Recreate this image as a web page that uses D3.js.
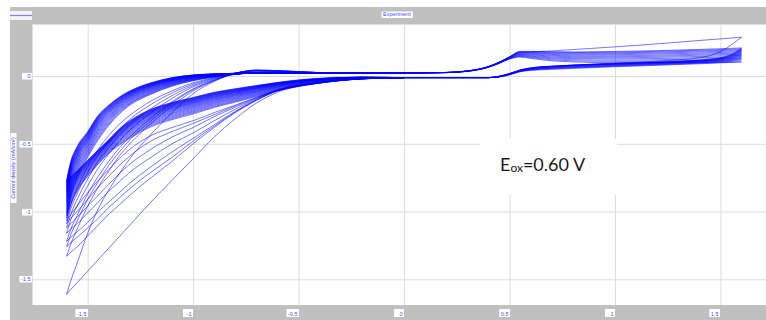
<!DOCTYPE html>
<html>
<head>
<meta charset="utf-8">
<script src="https://cdn.jsdelivr.net/npm/d3@7/dist/d3.min.js"></script>
<style>
  html, body { margin: 0; padding: 0; background: #ffffff; }
  svg { display: block; }
</style>
</head>
<body>
<svg id="chart" width="766" height="320"></svg>
<script>
// ---- Axis ticks ----
const xTickValues = [-1.5, -1, -0.5, 0, 0.5, 1, 1.5];
const xTickLabels = ["-1.5", "-1", "-0.5", "0", "0.5", "1", "1.5"];
const yTickValues = [0, -0.5, -1, -1.5];
const yTickLabels = ["0", "-0.5", "-1", "-1.5"];

// ---- Cathodic region: potentials (V) shared by every cycle ----
const negPotentials = [-1.6, -1.58, -1.55, -1.5, -1.45, -1.4, -1.35, -1.3, -1.2, -1.1, -1.0, -0.9, -0.8, -0.7, -0.6, -0.4, -0.2, 0.0];

// Positive-going sweep, current density (mA/cm2) at negPotentials; first cycle first
const cycleAnodic = [
  [-1.61, -1.51, -1.38, -1.16, -0.98, -0.84, -0.72, -0.61, -0.43, -0.27, -0.13, -0.04, 0.018, 0.042, 0.04, 0.025, 0.02, 0.022],
  [-1.33, -1.24, -1.13, -0.96, -0.82, -0.70, -0.59, -0.50, -0.35, -0.22, -0.11, -0.035, 0.02, 0.044, 0.04, 0.025, 0.02, 0.022],
  [-1.26, -1.17, -1.07, -0.91, -0.78, -0.66, -0.56, -0.47, -0.33, -0.20, -0.10, -0.032, 0.02, 0.043, 0.039, 0.025, 0.02, 0.022],
  [-1.22, -1.13, -1.03, -0.87, -0.74, -0.63, -0.53, -0.45, -0.31, -0.19, -0.095, -0.03, 0.02, 0.042, 0.038, 0.025, 0.02, 0.022],
  [-1.16, -1.06, -0.96, -0.81, -0.68, -0.575, -0.48, -0.40, -0.27, -0.165, -0.08, -0.025, 0.021, 0.04, 0.036, 0.024, 0.02, 0.022],
  [-1.12, -1.02, -0.91, -0.76, -0.63, -0.53, -0.44, -0.36, -0.24, -0.145, -0.07, -0.02, 0.021, 0.038, 0.034, 0.024, 0.02, 0.022],
  [-1.09, -0.98, -0.87, -0.71, -0.58, -0.48, -0.395, -0.32, -0.21, -0.125, -0.06, -0.015, 0.021, 0.036, 0.032, 0.024, 0.02, 0.022],
  [-1.07, -0.95, -0.83, -0.67, -0.54, -0.44, -0.355, -0.29, -0.185, -0.11, -0.05, -0.012, 0.02, 0.034, 0.031, 0.024, 0.02, 0.022],
  [-1.05, -0.90, -0.76, -0.60, -0.47, -0.365, -0.28, -0.215, -0.135, -0.075, -0.035, -0.008, 0.012, 0.026, 0.027, 0.023, 0.02, 0.022],
  [-1.033, -0.884, -0.745, -0.588, -0.46, -0.356, -0.273, -0.208, -0.13, -0.071, -0.032, -0.006, 0.012, 0.026, 0.027, 0.023, 0.02, 0.022],
  [-1.016, -0.868, -0.731, -0.577, -0.448, -0.347, -0.265, -0.202, -0.125, -0.067, -0.03, -0.005, 0.013, 0.025, 0.026, 0.023, 0.02, 0.022],
  [-1.0, -0.851, -0.717, -0.565, -0.437, -0.338, -0.257, -0.197, -0.12, -0.063, -0.027, -0.003, 0.013, 0.025, 0.026, 0.023, 0.02, 0.022],
  [-0.983, -0.835, -0.702, -0.554, -0.427, -0.329, -0.25, -0.19, -0.115, -0.06, -0.025, -0.002, 0.014, 0.024, 0.025, 0.023, 0.02, 0.022],
  [-0.968, -0.82, -0.688, -0.545, -0.416, -0.321, -0.243, -0.184, -0.11, -0.056, -0.022, -0.001, 0.014, 0.024, 0.025, 0.023, 0.02, 0.022],
  [-0.952, -0.806, -0.676, -0.534, -0.407, -0.313, -0.236, -0.178, -0.105, -0.053, -0.02, 0.0, 0.014, 0.023, 0.024, 0.022, 0.02, 0.022],
  [-0.937, -0.793, -0.663, -0.524, -0.398, -0.305, -0.23, -0.173, -0.101, -0.05, -0.018, 0.002, 0.014, 0.023, 0.024, 0.022, 0.02, 0.022],
  [-0.924, -0.779, -0.652, -0.515, -0.389, -0.298, -0.224, -0.168, -0.097, -0.047, -0.016, 0.003, 0.015, 0.023, 0.024, 0.022, 0.02, 0.022],
  [-0.911, -0.766, -0.641, -0.506, -0.381, -0.291, -0.219, -0.163, -0.093, -0.044, -0.014, 0.004, 0.015, 0.023, 0.024, 0.022, 0.02, 0.022],
  [-0.899, -0.754, -0.63, -0.497, -0.373, -0.284, -0.213, -0.158, -0.089, -0.041, -0.012, 0.005, 0.015, 0.023, 0.024, 0.022, 0.02, 0.022],
  [-0.888, -0.743, -0.62, -0.489, -0.365, -0.278, -0.208, -0.154, -0.085, -0.038, -0.01, 0.006, 0.016, 0.023, 0.024, 0.022, 0.02, 0.022],
  [-0.876, -0.733, -0.611, -0.482, -0.358, -0.272, -0.203, -0.15, -0.082, -0.036, -0.008, 0.007, 0.016, 0.023, 0.024, 0.022, 0.02, 0.022],
  [-0.866, -0.723, -0.602, -0.475, -0.352, -0.267, -0.198, -0.146, -0.079, -0.034, -0.006, 0.008, 0.016, 0.023, 0.024, 0.022, 0.02, 0.022],
  [-0.857, -0.714, -0.594, -0.469, -0.346, -0.262, -0.194, -0.143, -0.076, -0.032, -0.005, 0.009, 0.017, 0.023, 0.024, 0.022, 0.02, 0.022],
  [-0.848, -0.706, -0.587, -0.463, -0.34, -0.257, -0.19, -0.139, -0.073, -0.03, -0.004, 0.009, 0.017, 0.023, 0.024, 0.022, 0.02, 0.022],
  [-0.84, -0.698, -0.58, -0.458, -0.335, -0.253, -0.186, -0.136, -0.071, -0.028, -0.003, 0.01, 0.018, 0.023, 0.024, 0.022, 0.02, 0.022],
  [-0.831, -0.69, -0.573, -0.452, -0.329, -0.248, -0.182, -0.133, -0.068, -0.026, -0.001, 0.01, 0.018, 0.023, 0.024, 0.022, 0.02, 0.022],
  [-0.823, -0.681, -0.566, -0.446, -0.324, -0.244, -0.179, -0.13, -0.066, -0.024, 0.0, 0.011, 0.018, 0.023, 0.024, 0.022, 0.02, 0.022],
  [-0.816, -0.674, -0.56, -0.441, -0.319, -0.24, -0.176, -0.127, -0.064, -0.022, 0.001, 0.012, 0.018, 0.023, 0.024, 0.022, 0.02, 0.022],
  [-0.809, -0.668, -0.554, -0.437, -0.315, -0.236, -0.173, -0.125, -0.062, -0.021, 0.002, 0.013, 0.019, 0.023, 0.024, 0.022, 0.02, 0.022],
  [-0.802, -0.661, -0.548, -0.432, -0.31, -0.232, -0.169, -0.122, -0.06, -0.019, 0.003, 0.013, 0.019, 0.023, 0.024, 0.022, 0.02, 0.022],
  [-0.795, -0.654, -0.542, -0.427, -0.306, -0.229, -0.166, -0.119, -0.058, -0.018, 0.004, 0.014, 0.019, 0.023, 0.024, 0.022, 0.02, 0.022],
  [-0.789, -0.648, -0.536, -0.423, -0.302, -0.225, -0.163, -0.117, -0.056, -0.016, 0.005, 0.014, 0.02, 0.023, 0.024, 0.022, 0.02, 0.022],
  [-0.783, -0.642, -0.531, -0.419, -0.298, -0.222, -0.161, -0.115, -0.054, -0.015, 0.006, 0.015, 0.02, 0.023, 0.024, 0.022, 0.02, 0.022],
  [-0.776, -0.636, -0.525, -0.414, -0.294, -0.218, -0.158, -0.112, -0.052, -0.013, 0.007, 0.015, 0.02, 0.023, 0.024, 0.022, 0.02, 0.022],
  [-0.77, -0.63, -0.52, -0.41, -0.29, -0.215, -0.155, -0.11, -0.05, -0.012, 0.008, 0.016, 0.02, 0.023, 0.024, 0.022, 0.02, 0.022]
];

// Negative-going sweep, current density (mA/cm2) at negPotentials; same cycles
const cycleCathodic = [
  [-1.61, -1.575, -1.525, -1.44, -1.355, -1.27, -1.185, -1.10, -0.93, -0.77, -0.61, -0.45, -0.315, -0.20, -0.12, -0.05, -0.02, -0.012],
  [-1.33, -1.30, -1.26, -1.18, -1.10, -1.02, -0.95, -0.88, -0.75, -0.63, -0.50, -0.38, -0.27, -0.18, -0.11, -0.05, -0.02, -0.012],
  [-1.26, -1.23, -1.19, -1.12, -1.05, -0.97, -0.90, -0.83, -0.71, -0.60, -0.48, -0.37, -0.265, -0.178, -0.108, -0.049, -0.02, -0.012],
  [-1.22, -1.19, -1.15, -1.08, -1.0, -0.93, -0.86, -0.79, -0.67, -0.56, -0.46, -0.36, -0.26, -0.175, -0.105, -0.048, -0.02, -0.012],
  [-1.16, -1.13, -1.09, -1.01, -0.93, -0.85, -0.78, -0.71, -0.60, -0.50, -0.42, -0.33, -0.245, -0.17, -0.105, -0.048, -0.02, -0.012],
  [-1.12, -1.09, -1.04, -0.96, -0.88, -0.80, -0.72, -0.65, -0.54, -0.45, -0.38, -0.30, -0.23, -0.165, -0.105, -0.05, -0.021, -0.012],
  [-1.09, -1.05, -1.0, -0.91, -0.82, -0.74, -0.66, -0.59, -0.48, -0.41, -0.35, -0.285, -0.22, -0.16, -0.105, -0.05, -0.021, -0.012],
  [-1.07, -1.02, -0.96, -0.86, -0.77, -0.69, -0.61, -0.54, -0.44, -0.38, -0.33, -0.27, -0.215, -0.158, -0.108, -0.052, -0.021, -0.012],
  [-1.05, -0.95, -0.85, -0.74, -0.65, -0.57, -0.51, -0.46, -0.375, -0.322, -0.28, -0.232, -0.193, -0.152, -0.11, -0.053, -0.022, -0.012],
  [-1.033, -0.938, -0.841, -0.733, -0.644, -0.564, -0.503, -0.452, -0.367, -0.315, -0.272, -0.226, -0.187, -0.147, -0.106, -0.051, -0.021, -0.012],
  [-1.016, -0.925, -0.832, -0.726, -0.637, -0.558, -0.496, -0.444, -0.359, -0.307, -0.265, -0.219, -0.181, -0.142, -0.102, -0.049, -0.02, -0.012],
  [-1.0, -0.913, -0.823, -0.719, -0.631, -0.552, -0.489, -0.437, -0.352, -0.30, -0.258, -0.212, -0.175, -0.137, -0.099, -0.047, -0.02, -0.012],
  [-0.983, -0.90, -0.814, -0.711, -0.625, -0.546, -0.481, -0.429, -0.344, -0.292, -0.251, -0.205, -0.169, -0.132, -0.095, -0.044, -0.019, -0.012],
  [-0.968, -0.888, -0.806, -0.705, -0.619, -0.541, -0.475, -0.422, -0.337, -0.285, -0.244, -0.199, -0.164, -0.128, -0.092, -0.042, -0.018, -0.012],
  [-0.952, -0.876, -0.797, -0.698, -0.613, -0.535, -0.468, -0.414, -0.329, -0.278, -0.237, -0.193, -0.158, -0.123, -0.088, -0.04, -0.017, -0.012],
  [-0.937, -0.866, -0.79, -0.692, -0.608, -0.53, -0.462, -0.408, -0.323, -0.272, -0.231, -0.188, -0.153, -0.119, -0.085, -0.039, -0.017, -0.012],
  [-0.924, -0.855, -0.782, -0.686, -0.603, -0.525, -0.456, -0.401, -0.316, -0.265, -0.225, -0.182, -0.148, -0.115, -0.082, -0.037, -0.016, -0.012],
  [-0.911, -0.846, -0.776, -0.681, -0.598, -0.521, -0.451, -0.396, -0.311, -0.259, -0.22, -0.177, -0.144, -0.112, -0.079, -0.036, -0.015, -0.012],
  [-0.899, -0.837, -0.769, -0.675, -0.593, -0.516, -0.445, -0.39, -0.305, -0.253, -0.214, -0.172, -0.14, -0.108, -0.076, -0.034, -0.014, -0.012],
  [-0.888, -0.829, -0.763, -0.671, -0.589, -0.512, -0.441, -0.385, -0.30, -0.248, -0.209, -0.168, -0.136, -0.105, -0.074, -0.033, -0.014, -0.012],
  [-0.876, -0.82, -0.757, -0.666, -0.585, -0.508, -0.436, -0.379, -0.294, -0.243, -0.204, -0.163, -0.132, -0.101, -0.071, -0.031, -0.013, -0.012],
  [-0.866, -0.813, -0.752, -0.662, -0.582, -0.505, -0.432, -0.375, -0.29, -0.239, -0.20, -0.159, -0.129, -0.098, -0.069, -0.03, -0.013, -0.012],
  [-0.857, -0.805, -0.746, -0.657, -0.578, -0.501, -0.427, -0.37, -0.285, -0.234, -0.196, -0.155, -0.125, -0.095, -0.067, -0.028, -0.012, -0.012],
  [-0.848, -0.799, -0.742, -0.654, -0.575, -0.498, -0.424, -0.366, -0.281, -0.231, -0.192, -0.152, -0.122, -0.093, -0.065, -0.027, -0.012, -0.012],
  [-0.84, -0.792, -0.737, -0.65, -0.571, -0.495, -0.42, -0.362, -0.277, -0.227, -0.188, -0.148, -0.119, -0.09, -0.063, -0.026, -0.012, -0.012],
  [-0.831, -0.786, -0.733, -0.647, -0.568, -0.492, -0.417, -0.359, -0.274, -0.223, -0.185, -0.145, -0.116, -0.088, -0.061, -0.025, -0.012, -0.012],
  [-0.823, -0.78, -0.728, -0.643, -0.565, -0.489, -0.413, -0.355, -0.27, -0.219, -0.181, -0.141, -0.113, -0.086, -0.059, -0.024, -0.011, -0.012],
  [-0.816, -0.775, -0.725, -0.64, -0.563, -0.487, -0.41, -0.352, -0.267, -0.216, -0.178, -0.139, -0.111, -0.084, -0.058, -0.023, -0.011, -0.012],
  [-0.809, -0.769, -0.721, -0.637, -0.56, -0.484, -0.407, -0.348, -0.263, -0.213, -0.175, -0.136, -0.108, -0.081, -0.056, -0.022, -0.01, -0.012],
  [-0.802, -0.764, -0.717, -0.634, -0.557, -0.482, -0.404, -0.345, -0.26, -0.21, -0.172, -0.133, -0.106, -0.079, -0.055, -0.021, -0.01, -0.012],
  [-0.795, -0.759, -0.713, -0.631, -0.554, -0.479, -0.401, -0.342, -0.257, -0.206, -0.169, -0.13, -0.103, -0.077, -0.053, -0.02, -0.009, -0.012],
  [-0.789, -0.754, -0.71, -0.628, -0.552, -0.477, -0.398, -0.339, -0.254, -0.204, -0.166, -0.128, -0.101, -0.076, -0.052, -0.02, -0.009, -0.012],
  [-0.783, -0.749, -0.707, -0.625, -0.55, -0.474, -0.395, -0.336, -0.251, -0.201, -0.163, -0.125, -0.098, -0.074, -0.05, -0.019, -0.009, -0.012],
  [-0.776, -0.745, -0.704, -0.623, -0.548, -0.472, -0.393, -0.333, -0.248, -0.198, -0.161, -0.123, -0.096, -0.072, -0.049, -0.018, -0.009, -0.012],
  [-0.77, -0.74, -0.70, -0.62, -0.545, -0.47, -0.39, -0.33, -0.245, -0.195, -0.158, -0.12, -0.094, -0.07, -0.047, -0.017, -0.008, -0.012]
];

// ---- Anodic region (0 to +1.6 V) ----
const posPotentialsUp = [0, 0.2, 0.3, 0.4, 0.45, 0.5, 0.55, 0.6, 0.7, 0.8, 1.0, 1.2, 1.4, 1.6];
const posPotentialsDown = [1.6, 1.55, 1.5, 1.4, 1.2, 1.0, 0.8, 0.7, 0.6, 0.55, 0.5, 0.45, 0.4, 0.3, 0.2, 0];

// Rising sweep, current density (mA/cm2) at posPotentialsUp
const posAnodic = [
  [0.022, 0.026, 0.037, 0.07, 0.10, 0.142, 0.172, 0.178, 0.185, 0.195, 0.215, 0.237, 0.262, 0.286],
  [0.022, 0.025, 0.034, 0.064, 0.092, 0.125, 0.14, 0.13, 0.112, 0.104, 0.098, 0.098, 0.10, 0.104],
  [0.022, 0.025, 0.034, 0.065, 0.093, 0.127, 0.144, 0.136, 0.12, 0.112, 0.108, 0.11, 0.114, 0.12],
  [0.022, 0.025, 0.035, 0.065, 0.094, 0.129, 0.148, 0.141, 0.127, 0.12, 0.117, 0.12, 0.125, 0.132],
  [0.022, 0.025, 0.035, 0.066, 0.095, 0.131, 0.152, 0.146, 0.134, 0.128, 0.126, 0.129, 0.135, 0.142],
  [0.022, 0.025, 0.035, 0.066, 0.096, 0.133, 0.156, 0.151, 0.14, 0.135, 0.134, 0.138, 0.144, 0.152],
  [0.022, 0.026, 0.036, 0.067, 0.097, 0.134, 0.16, 0.156, 0.147, 0.142, 0.142, 0.146, 0.153, 0.161],
  [0.022, 0.026, 0.036, 0.067, 0.098, 0.136, 0.164, 0.161, 0.153, 0.149, 0.149, 0.154, 0.161, 0.17],
  [0.022, 0.026, 0.036, 0.068, 0.099, 0.137, 0.168, 0.166, 0.159, 0.156, 0.157, 0.162, 0.169, 0.178],
  [0.022, 0.026, 0.037, 0.068, 0.099, 0.138, 0.172, 0.17, 0.165, 0.162, 0.164, 0.169, 0.177, 0.186],
  [0.022, 0.026, 0.037, 0.069, 0.10, 0.139, 0.176, 0.175, 0.17, 0.168, 0.17, 0.176, 0.184, 0.193],
  [0.022, 0.026, 0.037, 0.069, 0.101, 0.14, 0.179, 0.178, 0.175, 0.173, 0.176, 0.182, 0.19, 0.20],
  [0.022, 0.026, 0.038, 0.07, 0.102, 0.141, 0.182, 0.182, 0.179, 0.178, 0.181, 0.187, 0.196, 0.207]
];

// Falling sweep, current density (mA/cm2) at posPotentialsDown
const posCathodic = [
  [0.286, 0.228, 0.18, 0.135, 0.11, 0.095, 0.08, 0.07, 0.055, 0.04, 0.018, -0.004, -0.012, -0.012, -0.012, -0.012],
  [0.104, 0.10, 0.097, 0.09, 0.079, 0.068, 0.056, 0.049, 0.041, 0.031, 0.008, -0.008, -0.012, -0.012, -0.012, -0.012],
  [0.12, 0.107, 0.101, 0.094, 0.083, 0.072, 0.06, 0.053, 0.044, 0.033, 0.01, -0.007, -0.012, -0.012, -0.012, -0.012],
  [0.132, 0.113, 0.105, 0.097, 0.086, 0.075, 0.063, 0.056, 0.046, 0.035, 0.011, -0.006, -0.012, -0.012, -0.012, -0.012],
  [0.142, 0.118, 0.108, 0.10, 0.089, 0.078, 0.066, 0.058, 0.048, 0.036, 0.012, -0.005, -0.012, -0.012, -0.012, -0.012],
  [0.152, 0.124, 0.112, 0.103, 0.092, 0.081, 0.069, 0.061, 0.05, 0.038, 0.013, -0.005, -0.012, -0.012, -0.012, -0.012],
  [0.161, 0.129, 0.116, 0.106, 0.094, 0.084, 0.072, 0.064, 0.052, 0.039, 0.014, -0.004, -0.012, -0.012, -0.012, -0.012],
  [0.17, 0.134, 0.12, 0.108, 0.096, 0.086, 0.074, 0.066, 0.054, 0.04, 0.015, -0.004, -0.012, -0.012, -0.012, -0.012],
  [0.178, 0.139, 0.123, 0.11, 0.098, 0.088, 0.076, 0.068, 0.056, 0.041, 0.016, -0.003, -0.012, -0.012, -0.012, -0.012],
  [0.186, 0.144, 0.126, 0.112, 0.10, 0.09, 0.078, 0.07, 0.057, 0.042, 0.016, -0.003, -0.012, -0.012, -0.012, -0.012],
  [0.193, 0.149, 0.129, 0.114, 0.101, 0.091, 0.079, 0.071, 0.058, 0.043, 0.017, -0.002, -0.012, -0.012, -0.012, -0.012],
  [0.20, 0.153, 0.132, 0.116, 0.102, 0.092, 0.08, 0.072, 0.059, 0.044, 0.017, -0.002, -0.012, -0.012, -0.012, -0.012],
  [0.207, 0.158, 0.135, 0.118, 0.103, 0.093, 0.081, 0.073, 0.06, 0.045, 0.018, -0.002, -0.012, -0.012, -0.012, -0.012]
];

// ---- Layout ----
const W = 766, H = 320;
const plot = { left: 33, top: 25, right: 766, bottom: 305 };
const frameGray = "#c0c0c0";
const labelBlue = "#4b4bff";
const traceBlue = "#0000ff";

const svg = d3.select("#chart");

const x = d3.scaleLinear().domain([-1.5, 1.5]).range([87.7, 720.4]);
const y = d3.scaleLinear().domain([0, -1.5]).range([76, 279.3]);

// Window frame
svg.append("rect").attr("x", 0).attr("y", 0).attr("width", W).attr("height", H).attr("fill", "#ffffff");
svg.append("rect").attr("x", 10).attr("y", 7).attr("width", W - 10).attr("height", H - 7).attr("fill", frameGray);

// Title bar widgets
svg.append("rect").attr("x", 10).attr("y", 11).attr("width", 22).attr("height", 9).attr("fill", "#f4f4f4");
svg.append("line").attr("x1", 10).attr("x2", 32).attr("y1", 15.5).attr("y2", 15.5)
  .attr("stroke", "#8080ff").attr("stroke-width", 1.2);

const titleText = svg.append("text")
  .attr("x", 397).attr("y", 16.3)
  .attr("text-anchor", "middle")
  .attr("font-family", "Liberation Sans, Arial, sans-serif")
  .attr("font-size", 5.5)
  .attr("fill", labelBlue)
  .text("Experiment");
const tb = titleText.node().getBBox();
svg.insert("rect", "text").attr("x", tb.x - 1.5).attr("y", 11.5).attr("width", tb.width + 3).attr("height", 6.5).attr("fill", "#ffffff");

// Plot background with light bevel
svg.append("rect").attr("x", plot.left - 1).attr("y", plot.top - 1)
  .attr("width", plot.right - plot.left + 1).attr("height", plot.bottom - plot.top + 1)
  .attr("fill", "#dedede");
svg.append("rect").attr("x", plot.left).attr("y", plot.top)
  .attr("width", plot.right - plot.left).attr("height", plot.bottom - plot.top)
  .attr("fill", "#ffffff");

svg.append("clipPath").attr("id", "plotClip")
  .append("rect").attr("x", plot.left).attr("y", plot.top)
  .attr("width", plot.right - plot.left).attr("height", plot.bottom - plot.top);

// Grid via d3 axes
const gridX = svg.append("g")
  .attr("transform", `translate(0,${plot.bottom})`)
  .call(d3.axisBottom(x).tickValues(xTickValues).tickSize(-(plot.bottom - plot.top)).tickFormat(""));
const gridY = svg.append("g")
  .attr("transform", `translate(${plot.left},0)`)
  .call(d3.axisLeft(y).tickValues(yTickValues).tickSize(-(plot.right - plot.left)).tickFormat(""));
[gridX, gridY].forEach(g => {
  g.select(".domain").remove();
  g.selectAll(".tick line").attr("stroke", "#dcdcdc").attr("stroke-width", 1);
});

// Traces
const traces = svg.append("g").attr("clip-path", "url(#plotClip)")
  .attr("fill", "none").attr("stroke", traceBlue)
  .attr("stroke-width", 0.9).attr("stroke-opacity", 0.6)
  .attr("stroke-linejoin", "round");

const sweep = d3.line().x(d => x(d[0])).y(d => y(d[1])).curve(d3.curveMonotoneX);

cycleCathodic.forEach((row, c) => {
  const down = negPotentials.map((e, k) => [e, row[k]]).reverse();
  const up = negPotentials.map((e, k) => [e, cycleAnodic[c][k]]);
  traces.append("path").attr("d", sweep(down));
  traces.append("path").attr("d", sweep(up));
});

posAnodic.forEach((row, c) => {
  const up = posPotentialsUp.map((e, k) => [e, row[k]]);
  const down = posPotentialsDown.map((e, k) => [e, posCathodic[c][k]]);
  traces.append("path").attr("d", sweep(up));
  traces.append("path").attr("d", sweep(down));
});

// Tick labels in small white boxes
const tickFont = "Liberation Sans, Arial, sans-serif";
xTickValues.forEach((v, k) => {
  const gx = Math.round(x(v));
  const t = svg.append("text")
    .attr("x", gx - 1.5).attr("y", 315.5)
    .attr("text-anchor", "end")
    .attr("font-family", tickFont).attr("font-size", 5.5)
    .attr("fill", labelBlue).text(xTickLabels[k]);
  const b = t.node().getBBox();
  const w = Math.max(10, b.width + 3);
  svg.insert("rect", "text").attr("x", gx - w).attr("y", 309).attr("width", w).attr("height", 8).attr("fill", "#ffffff");
});
yTickValues.forEach((v, k) => {
  const gy = Math.round(y(v));
  const t = svg.append("text")
    .attr("x", 30.5).attr("y", gy + 2)
    .attr("text-anchor", "end")
    .attr("font-family", tickFont).attr("font-size", 5.5)
    .attr("fill", labelBlue).text(yTickLabels[k]);
  const b = t.node().getBBox();
  const w = Math.max(10, b.width + 3);
  svg.insert("rect", "text").attr("x", 32 - w).attr("y", gy - 3).attr("width", w).attr("height", 6.5).attr("fill", "#ffffff");
});

// Y axis title
svg.append("text")
  .attr("transform", "translate(14.8,168) rotate(-90)")
  .attr("text-anchor", "middle")
  .attr("font-family", tickFont).attr("font-size", 5.5)
  .attr("fill", labelBlue)
  .text("Current density (mA/cm²)");
svg.insert("rect", "text").attr("x", 10.5).attr("y", 133).attr("width", 6).attr("height", 70).attr("fill", "#ffffff");

// Annotation box
svg.append("rect").attr("x", 480).attr("y", 139).attr("width", 137).attr("height", 56).attr("fill", "#ffffff");
const note = svg.append("text")
  .attr("x", 500).attr("y", 170.5)
  .attr("font-family", "Lato, 'Open Sans', sans-serif")
  .attr("font-size", 18)
  .attr("fill", "#1a1a1a");
note.append("tspan").text("E");
note.append("tspan").attr("font-size", 12).attr("dy", 1.5).text("ox");
note.append("tspan").attr("dy", -1.5).text("=0.60 V");
</script>
</body>
</html>
